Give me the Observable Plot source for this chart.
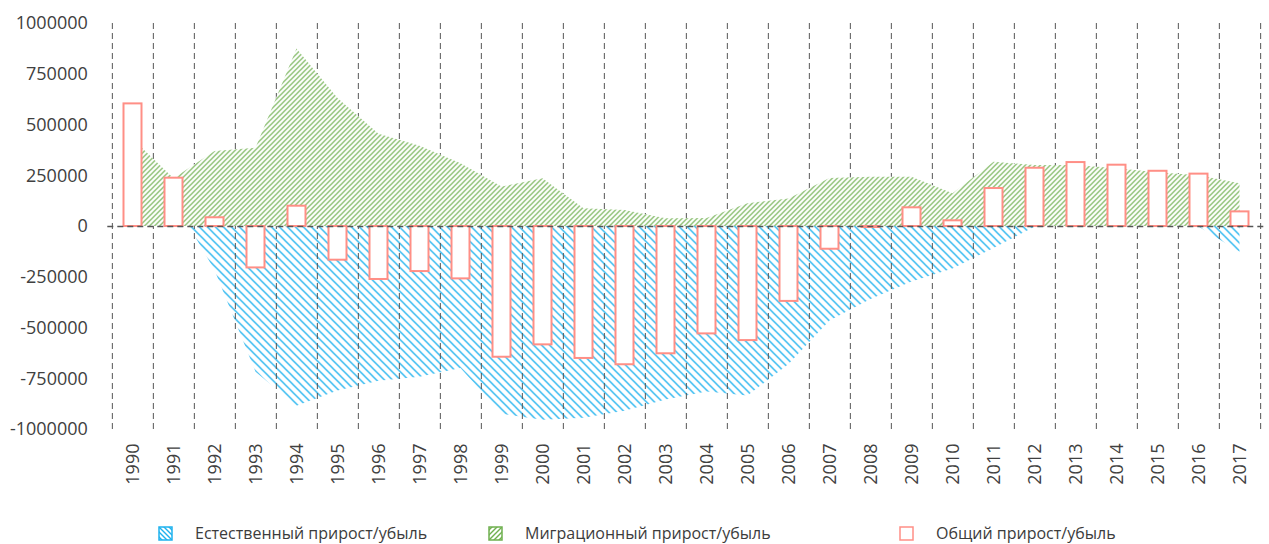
<!DOCTYPE html>
<html>
<head>
<meta charset="utf-8">
<script src="https://cdn.jsdelivr.net/npm/d3@7"></script>
<script src="https://cdn.jsdelivr.net/npm/@observablehq/plot@0.6"></script>
<style>
  body { margin: 0; background: #fff; font-family: "Open Sans", sans-serif; }
  #wrap { width: 1269px; height: 544px; position: relative; overflow: hidden; }
  #chart svg { display: block; }
  #legend { position: relative; width: 1269px; height: 44px; font-size: 16px; color: #3c3c3c; }
  #legend .item { position: absolute; top: 23px; height: 20px; line-height: 20px; display: flex; align-items: center; white-space: nowrap; }
  #legend .item svg { display: block; margin-right: 22px; }
</style>
</head>
<body>
<div id="wrap">
  <div id="chart"></div>
  <div id="legend"></div>
</div>
<script>
const years = ["1990","1991","1992","1993","1994","1995","1996","1997","1998","1999",
  "2000","2001","2002","2003","2004","2005","2006","2007","2008","2009",
  "2010","2011","2012","2013","2014","2015","2016","2017"];

// Естественный прирост/убыль
const natural = [330000, 130000, -217000, -718000, -885000, -810000, -762000, -742000, -700000, -925000,
  -955000, -945000, -910000, -855000, -815000, -835000, -680000, -465000, -359000, -274000,
  -209000, -108000, -4000, 24000, 30000, 32000, -2000, -127000];

// Миграционный прирост/убыль
const migration = [430000, 235000, 370000, 385000, 875000, 630000, 455000, 395000, 309000, 194000,
  235000, 87000, 79000, 38000, 40000, 112000, 136000, 237000, 243000, 243000,
  161000, 317000, 300000, 300000, 285000, 265000, 250000, 210000];

// Общий прирост/убыль
const total = [604000, 238000, 43000, -204000, 100000, -166000, -261000, -222000, -258000, -644000,
  -583000, -650000, -681000, -627000, -529000, -562000, -369000, -112000, -5000, 92000,
  28000, 187000, 287000, 315000, 302000, 272000, 258000, 72000];

const yTicks = [-1000000, -750000, -500000, -250000, 0, 250000, 500000, 750000, 1000000];

const seriesNames = ["Естественный прирост/убыль", "Миграционный прирост/убыль", "Общий прирост/убыль"];

const rows = years.map((y, i) => ({year: y, natural: natural[i], migration: migration[i], total: total[i]}));

const W = 1269, H = 500, mL = 107.3, mR = 5, mT = 23, mB = 71;
const bw = (W - mL - mR) / years.length;
const gridColor = "#555555";
const blue = "#1fb2ee", green = "#6fb04f", red = "#ff8f86";

const plot = Plot.plot({
  width: W, height: H,
  marginLeft: mL, marginRight: mR, marginTop: mT, marginBottom: mB,
  style: {fontFamily: "Open Sans", fontSize: "18px", color: "#404040", background: "white"},
  x: {type: "band", domain: years, padding: 0, label: null, tickSize: 0, tickPadding: 14, tickRotate: -90},
  y: {domain: [-1000000, 1000000], ticks: yTicks, tickFormat: d => String(d), label: null, tickSize: 0, tickPadding: 20},
  marks: [
    Plot.areaY(rows, {x: "year", y1: 0, y2: "natural", fill: "white"}),
    Plot.areaY(rows, {x: "year", y1: 0, y2: "natural", fill: "url(#hatchBlue)"}),
    Plot.ruleX(years, {x: d => d, y1: yTicks[0], y2: yTicks[yTicks.length - 1], dx: -bw / 2, stroke: gridColor, strokeDasharray: "6,4"}),
    Plot.ruleX([years[years.length - 1]], {x: d => d, y1: yTicks[0], y2: yTicks[yTicks.length - 1], dx: bw / 2, stroke: gridColor, strokeDasharray: "6,4"}),
    Plot.areaY(rows, {x: "year", y1: 0, y2: "migration", fill: "white"}),
    Plot.areaY(rows, {x: "year", y1: 0, y2: "migration", fill: "url(#hatchGreen)"}),
    Plot.barY(rows, {x: "year", y1: 0, y2: "total", fill: "white", stroke: red, strokeWidth: 2, insetLeft: 11.5, insetRight: 11.5}),
    Plot.ruleY([0], {stroke: gridColor, strokeDasharray: "6,4", strokeWidth: 1.5})
  ]
});

const svg = d3.select(plot);
const defs = svg.insert("defs", ":first-child");
function addHatch(defs, id, size, dir, color, sw) {
  const p = defs.append("pattern").attr("id", id).attr("patternUnits", "userSpaceOnUse")
    .attr("width", size).attr("height", size);
  const s = size;
  const d = dir === "back"
    ? `M0,0 L${s},${s} M${-2},${s - 2} L2,${s + 2} M${s - 2},-2 L${s + 2},2`
    : `M0,${s} L${s},0 M-2,2 L2,-2 M${s - 2},${s + 2} L${s + 2},${s - 2}`;
  p.append("path").attr("d", d).attr("stroke", color).attr("stroke-width", sw).attr("fill", "none");
}
addHatch(defs, "hatchBlue", 8, "back", blue, 1.3);
addHatch(defs, "hatchGreen", 5, "fwd", green, 1.2);

document.getElementById("chart").appendChild(plot);

// Legend
const legend = d3.select("#legend");
const legendItems = [
  {name: seriesNames[0], left: 158, type: "blue"},
  {name: seriesNames[1], left: 488, type: "green"},
  {name: seriesNames[2], left: 899, type: "total"}
];
legendItems.forEach((it, i) => {
  const div = legend.append("div").attr("class", "item").style("left", it.left + "px");
  const s = div.append("svg").attr("width", 15).attr("height", 15);
  if (it.type !== "total") {
    const ld = s.append("defs");
    const id = "lg" + i;
    if (it.type === "blue") addHatch(ld, id, 5, "back", blue, 1.4);
    else addHatch(ld, id, 5, "fwd", green, 1.4);
    s.append("rect").attr("x", 1).attr("y", 1).attr("width", 13).attr("height", 13)
      .attr("fill", `url(#${id})`).attr("stroke", it.type === "blue" ? blue : green).attr("stroke-width", 1.5);
  } else {
    s.append("rect").attr("x", 1).attr("y", 1).attr("width", 13).attr("height", 13)
      .attr("fill", "white").attr("stroke", red).attr("stroke-width", 1.5);
  }
  div.append("span").text(it.name);
});
</script>
</body>
</html>
